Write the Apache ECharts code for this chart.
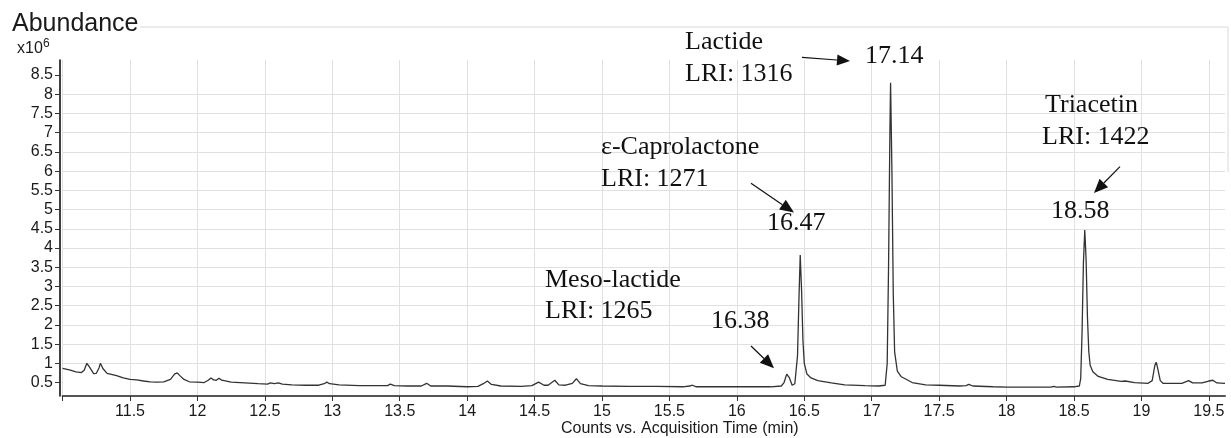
<!DOCTYPE html>
<html>
<head>
<meta charset="utf-8">
<script src="https://cdn.jsdelivr.net/npm/echarts@6/dist/echarts.min.js"></script>
<style>
  html, body { margin: 0; padding: 0; background: #fff; }
  #main { width: 1231px; height: 438px; }
</style>
</head>
<body>
<div id="main"></div>
<script>
// retention time (min) and abundance (x10^6)
const times = [
  11.00, 11.05, 11.10, 11.14, 11.16, 11.18, 11.20, 11.23, 11.25, 11.27, 11.28, 11.30, 11.33, 11.40, 11.45,
  11.50, 11.55, 11.60, 11.65, 11.70, 11.75, 11.80, 11.83, 11.85, 11.87, 11.90, 11.94, 12.00, 12.05, 12.08,
  12.10, 12.12, 12.14, 12.16, 12.18, 12.25, 12.35, 12.45, 12.52, 12.54, 12.57, 12.60, 12.63, 12.70, 12.80,
  12.90, 12.94, 12.96, 12.98, 13.05, 13.20, 13.35, 13.41, 13.43, 13.46, 13.55, 13.66, 13.70, 13.73, 13.85,
  14.00, 14.08, 14.12, 14.15, 14.18, 14.25, 14.40, 14.48, 14.53, 14.57, 14.60, 14.65, 14.68, 14.73, 14.78,
  14.81, 14.84, 14.90, 15.00, 15.20, 15.40, 15.60, 15.65, 15.67, 15.70, 15.90, 16.10, 16.25, 16.33, 16.35,
  16.37, 16.39, 16.41, 16.43, 16.45, 16.46, 16.47, 16.48, 16.49, 16.50, 16.52, 16.55, 16.60, 16.70, 16.80,
  16.95, 17.05, 17.10, 17.115, 17.125, 17.135, 17.14, 17.15, 17.16, 17.17, 17.19, 17.22, 17.30, 17.40, 17.50,
  17.65, 17.70, 17.72, 17.75, 17.90, 18.00, 18.20, 18.33, 18.35, 18.37, 18.50, 18.54, 18.55, 18.56, 18.57,
  18.58, 18.59, 18.60, 18.61, 18.62, 18.64, 18.68, 18.75, 18.85, 18.88, 18.95, 19.05, 19.08, 19.10, 19.11,
  19.12, 19.14, 19.16, 19.30, 19.35, 19.38, 19.45, 19.50, 19.53, 19.56, 19.62
];
const abundance = [
  0.87, 0.83, 0.78, 0.76, 0.82, 1.00, 0.90, 0.73, 0.74, 0.88, 1.00, 0.86, 0.74, 0.68, 0.62,
  0.58, 0.57, 0.54, 0.52, 0.51, 0.52, 0.58, 0.72, 0.75, 0.68, 0.58, 0.52, 0.51, 0.50, 0.56,
  0.62, 0.57, 0.56, 0.61, 0.56, 0.51, 0.49, 0.47, 0.46, 0.49, 0.47, 0.49, 0.46, 0.44, 0.43,
  0.43, 0.47, 0.51, 0.47, 0.44, 0.42, 0.42, 0.42, 0.46, 0.42, 0.41, 0.41, 0.48, 0.41, 0.41,
  0.39, 0.40, 0.47, 0.54, 0.45, 0.41, 0.40, 0.42, 0.51, 0.43, 0.43, 0.56, 0.44, 0.43, 0.48,
  0.60, 0.47, 0.42, 0.41, 0.40, 0.40, 0.39, 0.41, 0.43, 0.39, 0.39, 0.39, 0.39, 0.41, 0.50,
  0.72, 0.62, 0.43, 0.47, 1.20, 2.60, 3.82, 2.90, 1.60, 1.00, 0.72, 0.62, 0.55, 0.49, 0.44,
  0.42, 0.41, 0.43, 1.00, 3.50, 7.00, 8.30, 6.00, 2.80, 1.30, 0.80, 0.65, 0.50, 0.44, 0.43,
  0.41, 0.42, 0.45, 0.41, 0.39, 0.38, 0.38, 0.38, 0.40, 0.38, 0.39, 0.41, 0.60, 1.80, 3.60,
  4.47, 3.70, 2.20, 1.30, 0.95, 0.78, 0.66, 0.58, 0.53, 0.54, 0.50, 0.48, 0.55, 0.95, 1.03,
  0.88, 0.55, 0.48, 0.48, 0.55, 0.49, 0.49, 0.54, 0.56, 0.49, 0.48
];

const xLabelValues = [11.5, 12, 12.5, 13, 13.5, 14, 14.5, 15, 15.5, 16, 16.5, 17, 17.5, 18, 18.5, 19, 19.5];
const xTickValues = [11].concat(xLabelValues);
const yTickValues = [0.5, 1, 1.5, 2, 2.5, 3, 3.5, 4, 4.5, 5, 5.5, 6, 6.5, 7, 7.5, 8, 8.5];

// annotated peaks
const peakNames = ['Lactide', 'ε-Caprolactone', 'Meso-lactide', 'Triacetin'];
const peakLRI = ['LRI: 1316', 'LRI: 1271', 'LRI: 1265', 'LRI: 1422'];
const peakTimes = ['17.14', '16.47', '16.38', '18.58'];

// where the annotation texts/arrows sit on the page (pixels)
const namePos = [[685, 42.5], [601, 146.7], [545, 280], [1045, 105]];
const lriPos = [[685, 74], [601, 179], [545, 310.7], [1042, 137.5]];
const timePos = [[865, 56], [767, 223.3], [711, 320.7], [1051, 211]];
const arrowPos = [[802, 57.3, 850, 61], [751, 183.3, 794, 212.5], [751, 346, 774, 368.3], [1120, 166.7, 1094, 193]];

const serif = '"Liberation Serif", "Times New Roman", serif';
const sans = '"Liberation Sans", Arial, sans-serif';

function annText(str, p) {
  return {
    type: 'text', x: p[0], y: p[1], z: 10,
    style: { text: str, font: '26px ' + serif, fill: '#111', align: 'left', verticalAlign: 'middle' }
  };
}

function arrow(a, len, half) {
  const [x1, y1, x2, y2] = a;
  const d = Math.hypot(x2 - x1, y2 - y1);
  const ux = (x2 - x1) / d, uy = (y2 - y1) / d;
  const bx = x2 - ux * len, by = y2 - uy * len;
  return [
    { type: 'line', z: 10, shape: { x1: x1, y1: y1, x2: bx, y2: by }, style: { stroke: '#111', lineWidth: 1.2 } },
    { type: 'polygon', z: 10, shape: { points: [[x2, y2], [bx - uy * half, by + ux * half], [bx + uy * half, by - ux * half]] }, style: { fill: '#111' } }
  ];
}

let graphics = [
  // frame pieces above the plot
  { type: 'line', shape: { x1: 140, y1: 27, x2: 1228, y2: 27 }, style: { stroke: '#d9d9d9', lineWidth: 1 } },
  { type: 'line', shape: { x1: 1228, y1: 27, x2: 1228, y2: 172 }, style: { stroke: '#d9d9d9', lineWidth: 1 } },
  { type: 'text', x: 12, y: 24, style: { text: 'Abundance', font: '25px ' + sans, fill: '#1a1a1a', verticalAlign: 'middle' } },
  { type: 'text', x: 17, y: 48.5, style: { text: 'x10', font: '16px ' + sans, fill: '#1a1a1a', verticalAlign: 'middle' } },
  { type: 'text', x: 43, y: 44, style: { text: '6', font: '12px ' + sans, fill: '#1a1a1a', verticalAlign: 'middle' } }
];
for (let i = 0; i < peakNames.length; i++) {
  graphics.push(annText(peakNames[i], namePos[i]));
  graphics.push(annText(peakLRI[i], lriPos[i]));
  graphics.push(annText(peakTimes[i], timePos[i]));
  graphics = graphics.concat(arrow(arrowPos[i], i === 0 ? 13 : 14, i === 0 ? 5.5 : 6));
}

const myChart = echarts.init(document.getElementById('main'));
const option = {
  animation: false,
  backgroundColor: '#fff',
  grid: { left: 62.6, right: 6, top: 60, bottom: 42, containLabel: false, outerBoundsMode: 'none' },
  xAxis: {
    type: 'value',
    min: 11,
    max: 19.62,
    name: 'Counts vs. Acquisition Time (min)',
    nameLocation: 'middle',
    nameGap: 25,
    nameMoveOverlap: false,
    nameTextStyle: { fontFamily: sans, fontSize: 16, color: '#1a1a1a', padding: [0, 0, 0, 72] },
    axisLine: { lineStyle: { color: '#555', width: 2 } },
    axisTick: { show: true, length: 5, customValues: xTickValues, lineStyle: { color: '#333', width: 1 } },
    axisLabel: { customValues: xLabelValues, fontFamily: sans, fontSize: 16, color: '#1a1a1a', margin: 8 },
    splitLine: { show: true, lineStyle: { color: '#e0e0e0', width: 1 } }
  },
  yAxis: {
    type: 'value',
    min: 0.15,
    max: 8.89,
    splitNumber: 17,
    offset: 2.6,
    axisLine: { show: true, lineStyle: { color: '#111', width: 1.6 } },
    axisTick: { show: true, length: 5, customValues: yTickValues, lineStyle: { color: '#333', width: 1 } },
    axisLabel: { customValues: yTickValues, fontFamily: sans, fontSize: 16, color: '#1a1a1a', margin: 7 },
    splitLine: { show: true, showMinLine: false, showMaxLine: false, lineStyle: { color: '#e0e0e0', width: 1 } }
  },
  series: [{
    type: 'line',
    data: times.map((t, i) => [t, abundance[i]]),
    showSymbol: false,
    symbol: 'none',
    lineStyle: { color: '#333', width: 1.3 },
    clip: true
  }],
  graphic: graphics
};
myChart.setOption(option);
</script>
</body>
</html>
